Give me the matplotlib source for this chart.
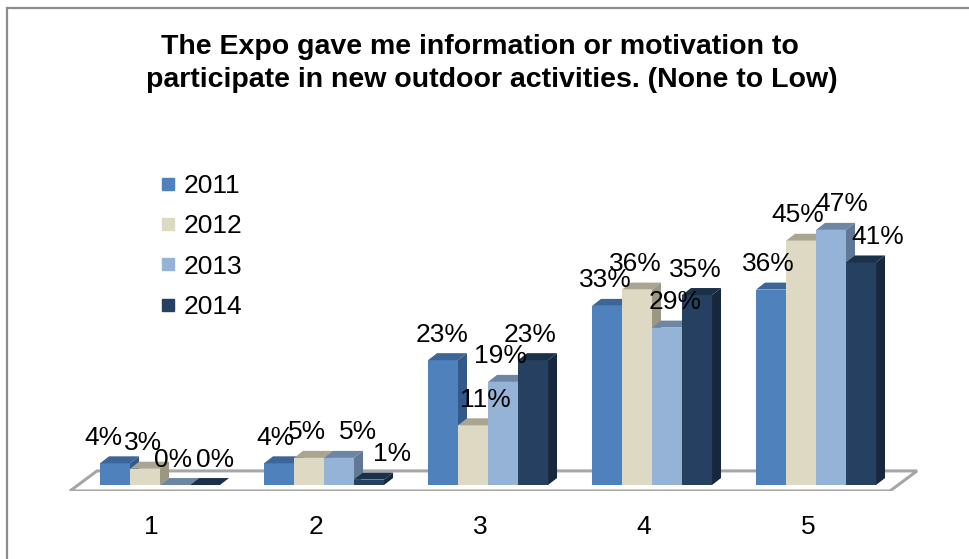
import matplotlib.pyplot as plt
import numpy as np
from matplotlib.patches import Polygon, Rectangle
from matplotlib.lines import Line2D

plt.rcParams['font.family'] = ['Liberation Sans', 'DejaVu Sans']

# data
categories = ['1', '2', '3', '4', '5']
years = ['2011', '2012', '2013', '2014']
v2011 = [4, 4, 23, 33, 36]
v2012 = [3, 5, 11, 36, 45]
v2013 = [0, 5, 19, 29, 47]
v2014 = [0, 1, 23, 35, 41]
series = [v2011, v2012, v2013, v2014]

# colours: front, top, side
front_cols = ['#4F81BD', '#DDD9C3', '#95B3D7', '#254061']
top_cols = ['#3C6598', '#A9A590', '#6E86A6', '#1B3049']
side_cols = ['#34588A', '#9B9780', '#607896', '#17283E']

# horizontal nudge of the value labels (pixels), per series then per category
label_nudge = [[-12, -4, -1, -2, -3],
               [-2, -2, 12, -2, -3],
               [-2, 19, -3, 8, 11],
               [10, 23, -3, -2, 17]]

W, H = 969, 559
fig = plt.figure(figsize=(W / 100, H / 100), dpi=100)

# chart border (left and top visible, rest runs off the picture)
fig.patches.append(Rectangle((7 / W, -0.1), 1.2, (H - 8) / H + 0.1, transform=fig.transFigure,
                             fill=False, edgecolor='#8c8c8c', linewidth=1.6, clip_on=False))

ax = fig.add_axes([60 / W, (H - 491) / H, 870 / W, (491 - 130) / H])
ax.set_xlim(-0.6098, 4.695)
ax.set_ylim(-1.1, 65.4)
ax.axis('off')

px = 1 / 164                  # one pixel in category units
bar_w = 30 * px
dx, dy = 9 * px, 7 / 5.43     # depth of each bar

# floor
n = len(categories)
fx0, fx1 = -0.549, n - 1 + 0.451
fdx, fback = 0.165, 2.6
ax.add_patch(Polygon([(fx0, -1.1), (fx1, -1.1), (fx1 + fdx, fback), (fx0 + fdx, fback)],
                     closed=True, facecolor='white', edgecolor='#a6a6a6', linewidth=2.2, zorder=1))

x = np.arange(n)
for j, vals in enumerate(series):
    pos = x + (j - 1.5) * bar_w
    for i, (p, v) in enumerate(zip(pos, vals)):
        zz = 2 + i * 10 + j * 2
        l, r = p - bar_w / 2, p + bar_w / 2
        ax.bar(p, v, width=bar_w, color=front_cols[j], linewidth=0, zorder=zz)
        ax.add_patch(Polygon([(l, v), (r, v), (r + dx, v + dy), (l + dx, v + dy)],
                             closed=True, facecolor=top_cols[j], linewidth=0, zorder=zz))
        ax.add_patch(Polygon([(r, 0), (r + dx, dy), (r + dx, v + dy), (r, v)],
                             closed=True, facecolor=side_cols[j], linewidth=0, zorder=zz))
        ax.text(p + label_nudge[j][i] * px, v + 4.7, f'{v}%', ha='center', va='center',
                fontsize=19, color='#000000', zorder=100)

# category labels
for i, c in enumerate(categories):
    ax.text(i - 0.05, -7.8, c, ha='center', va='center', fontsize=19, clip_on=False)

# legend
handles = [Line2D([], [], linestyle='none', marker='s', markersize=9,
                  markerfacecolor=c, markeredgecolor=c) for c in front_cols]
fig.legend(handles, years, loc='upper left', bbox_to_anchor=(160 / W, 1 - 174 / H),
           frameon=False, fontsize=19, handlelength=0.6, handletextpad=0.3,
           labelspacing=0.62, borderpad=0, borderaxespad=0)

# title
fig.text(480 / W, 1 - 47 / H, 'The Expo gave me information or motivation to',
         ha='center', va='center', fontsize=20.5, fontweight='bold')
fig.text(492 / W, 1 - 80 / H, 'participate in new outdoor activities. (None to Low)',
         ha='center', va='center', fontsize=20.5, fontweight='bold')

fig.savefig('out.png', dpi=100)
